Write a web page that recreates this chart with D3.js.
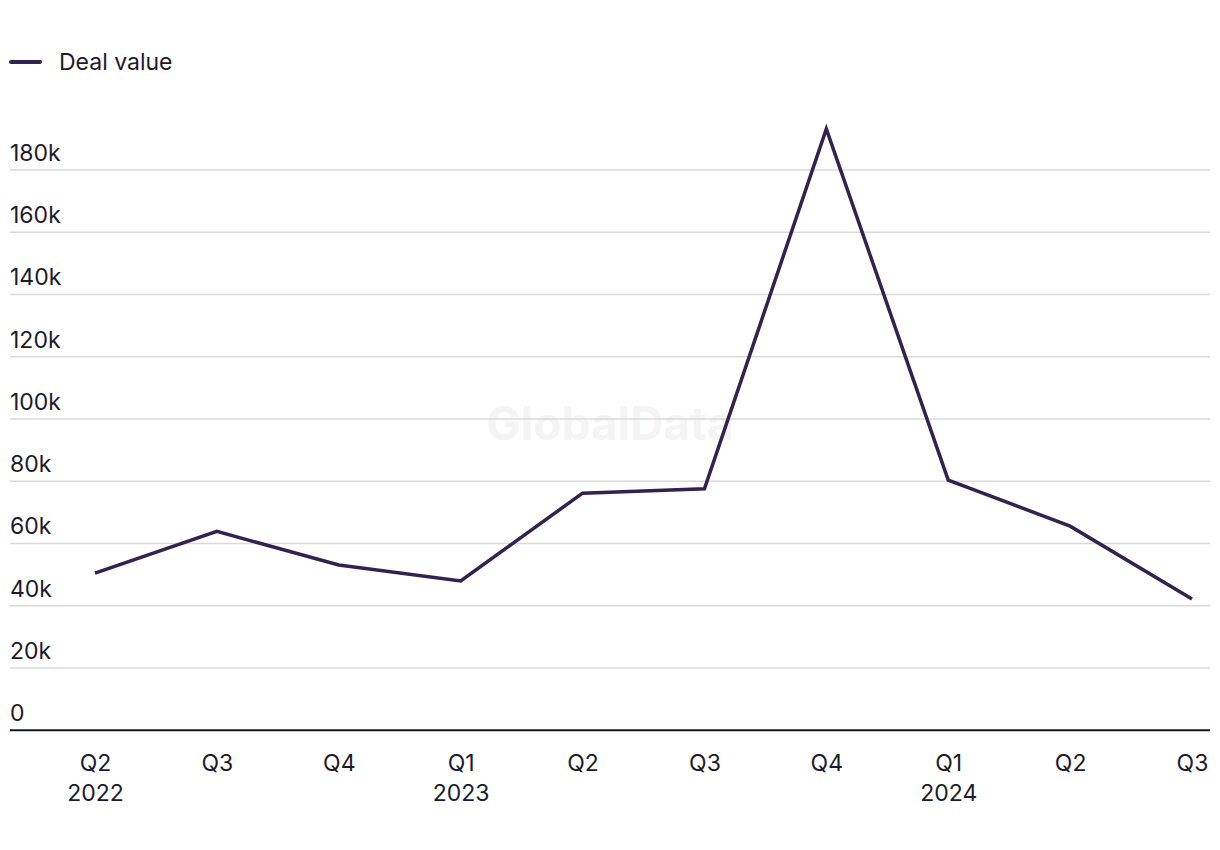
<!DOCTYPE html>
<html><head><meta charset="utf-8">
<script src="https://cdn.jsdelivr.net/npm/d3@7"></script>
<style>
html,body{margin:0;padding:0;background:#fff;}
text{font-family:Inter,"Noto Sans",sans-serif;}
</style></head>
<body><svg id="chart" width="1220" height="850"></svg>
<script>
const quarters = ["Q2","Q3","Q4","Q1","Q2","Q3","Q4","Q1","Q2","Q3"];
const years = ["2022","","","2023","","","","2024","",""];
const dealValue = [50300, 63700, 52900, 47800, 76000, 77400, 193000, 80200, 65400, 42000];
const yTicks = [0,20000,40000,60000,80000,100000,120000,140000,160000,180000];
const seriesName = "Deal value";

const svg = d3.select("#chart");
const color = "#33214f";
const textColor = "#1c1b2e";
const fs = 23;
const left = 10, right = 1210;
const x = d3.scalePoint().domain(d3.range(quarters.length)).range([95, 1192]);
const y = d3.scaleLinear().domain([0, 200000]).range([729.7, 107.2]);

// watermark
svg.append("text").attr("x", 610).attr("y", 440).attr("text-anchor","middle")
  .attr("font-size", 46).attr("font-weight", 700).attr("fill", "#f4f4f4").text("GlobalData");

// gridlines + labels
const yAxis = d3.axisLeft(y).tickValues(yTicks).tickSize(-(right-left))
  .tickFormat(d => d === 0 ? "0" : (d/1000) + "k");
const gy = svg.append("g").attr("transform", `translate(${left},0)`).call(yAxis);
gy.select(".domain").remove();
gy.selectAll(".tick line").attr("stroke", "#d9d9d9").attr("stroke-width", 1.5)
  .filter(d => d === 0).attr("stroke", "#14132a").attr("stroke-width", 2);
gy.selectAll(".tick text").attr("x", 0).attr("dy", -9).attr("text-anchor","start")
  .attr("font-size", fs).attr("fill", textColor).style("font-family","Inter,'Noto Sans',sans-serif");

// x axis labels
const xAxis = d3.axisBottom(x).tickSize(0).tickFormat(i => quarters[i]);
const gx = svg.append("g").attr("transform", `translate(0,${y(0)})`).call(xAxis);
gx.select(".domain").remove();
gx.selectAll(".tick text").attr("font-size", fs).attr("fill", textColor).attr("y", 0).attr("dy", 0)
  .style("font-family","Inter,'Noto Sans',sans-serif")
  .each(function(i){
    const t = d3.select(this).text(null);
    t.append("tspan").attr("x", 0).attr("y", 41).text(quarters[i]);
    if (years[i]) t.append("tspan").attr("x", 0).attr("y", 71).text(years[i]);
  });

// line
const line = d3.line().x((d,i) => x(i)).y(d => y(d));
svg.append("path").datum(dealValue).attr("d", line).attr("fill","none")
  .attr("stroke", color).attr("stroke-width", 3.5).attr("stroke-linejoin","miter");

// legend
svg.append("line").attr("x1", 11).attr("x2", 40).attr("y1", 62).attr("y2", 62)
  .attr("stroke", color).attr("stroke-width", 4).attr("stroke-linecap","round");
svg.append("text").attr("x", 59).attr("y", 70).attr("font-size", fs).attr("fill", textColor).text(seriesName);
</script>
</body></html>
